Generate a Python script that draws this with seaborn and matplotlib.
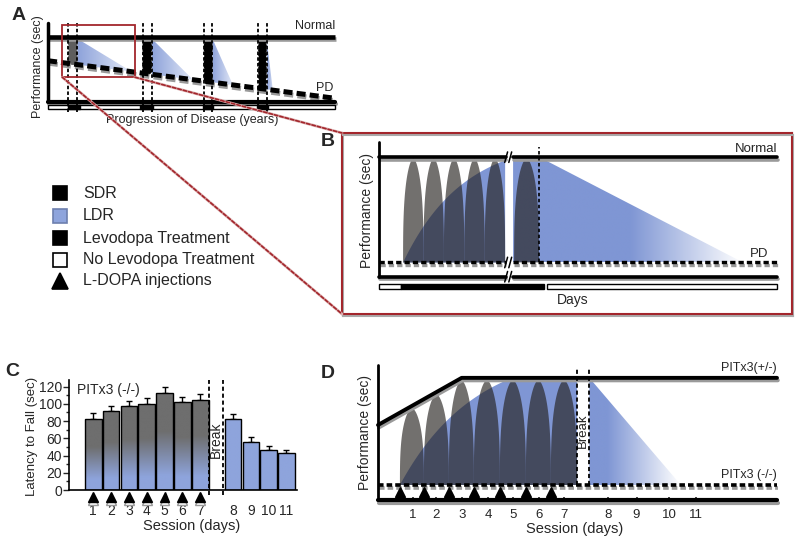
import numpy as np
import pandas as pd
import matplotlib
matplotlib.use("Agg")
import matplotlib.pyplot as plt
import matplotlib.patheffects as pe
from matplotlib.patches import Polygon, Rectangle, Ellipse, ConnectionPatch
from matplotlib.colors import LinearSegmentedColormap
import seaborn as sns

sns.set_style("white")
plt.rcParams['font.family'] = ['Liberation Sans', 'DejaVu Sans']
plt.rcParams['lines.scale_dashes'] = False

# ------------------------------------------------------------------ data
# Panel A (schematic, x in years, y in performance units)
a_dose_pairs = [(0.71, 1.03), (3.32, 3.64), (5.47, 5.77), (7.38, 7.67)]
a_ldr_tips = [2.94, 5.09, 6.49, 7.89]
a_treat_on = [(0.71, 1.12), (3.23, 3.67), (5.43, 5.80), (7.32, 7.73)]
a_pd_ends = [0.632, 0.061]
a_years = [0.0, 10.0]
a_zoom_box = [0.5, 3.05, 0.38, 1.18]

# Panel B (schematic)
b_spindle_starts = [1.18, 2.18, 3.18, 4.18, 5.18]
b_spindle_after = [6.62, 7.84]
b_break = [6.18, 6.57]
b_ldr_start = 1.18
b_ldr_stop = 7.86
b_ldr_end = 17.84
b_fade_start = 12.3
b_xmax = 19.5
b_strip_white = [(0.0, 1.1), (8.25, 19.5)]
b_strip_black = [(1.1, 8.1)]

# Panel C (bar chart)
c_days = [1, 2, 3, 4, 5, 6, 7, 8, 9, 10, 11]
c_pos = [1, 2, 3, 4, 5, 6, 7, 8.85, 9.85, 10.85, 11.85]
c_latency = [83, 92, 97, 99.5, 113, 102, 104.5, 82.5, 56, 47, 42.5]
c_sem = [6, 5, 6, 7, 6, 6.5, 6.5, 5.5, 6, 4.5, 4.5]
c_break = [7.48, 8.27]
c_yticks = [0, 20, 40, 60, 80, 100, 120]

# Panel D (schematic)
d_days = [1, 2, 3, 4, 5, 6, 7, 8, 9, 10, 11]
d_tick_pos = [1, 1.9, 2.95, 3.95, 4.95, 5.96, 6.95, 8.67, 9.78, 11.06, 12.1]
d_injections = [0.5, 1.44, 2.42, 3.4, 4.42, 5.44, 6.42]
d_break = [7.45, 7.93]
d_het_x = [-0.36, 2.92, 15.29]
d_het_perf = [0.56, 1.0, 1.0]
d_ldr_plateau = 4.9
d_ldr_end = 11.52

legend_labels = ['SDR', 'LDR', 'Levodopa Treatment', 'No Levodopa Treatment', 'L-DOPA injections']

# ------------------------------------------------------------------ style
W, H = 800, 541
fig = plt.figure(figsize=(W / 100, H / 100), dpi=100)

BLUE = '#7f96d4'
LBLUE = '#8ea4dc'
GRAY = '#6e6e6e'
SPINDLE = '#231f1c'
RED = '#a3262c'
shadow = [pe.SimpleLineShadow(offset=(0.6, -1.8), shadow_color='#9a9a9a', alpha=1.0), pe.Normal()]


def px_axes(x0, y0, x1, y1):
    return fig.add_axes([x0 / W, 1 - y1 / H, (x1 - x0) / W, (y1 - y0) / H])


def gradient_fill(ax, verts, x0, x1, y0, y1, nodes, horizontal=True, zorder=1):
    cmap = LinearSegmentedColormap.from_list('g', nodes)
    patch = Polygon(verts, closed=True, facecolor='none', edgecolor='none', zorder=zorder)
    ax.add_patch(patch)
    arr = np.linspace(0, 1, 512)
    arr = arr.reshape(1, -1) if horizontal else arr.reshape(-1, 1)
    im = ax.imshow(arr, extent=[x0, x1, y0, y1], origin='lower', cmap=cmap,
                   aspect='auto', zorder=zorder, interpolation='bilinear')
    im.set_clip_path(patch)
    return im


def spindle(ax, xs, xe, peak, base=0.0, alpha=0.64, zorder=3):
    t = np.linspace(0, 1, 100)
    half = (xe - xs) / 2 * (1 - t ** 3) ** 0.6
    xc = (xs + xe) / 2
    h = base + (peak - base) * t
    verts = np.column_stack([np.r_[xc - half, (xc + half)[::-1]], np.r_[h, h[::-1]]])
    ax.add_patch(Polygon(verts, closed=True, facecolor=SPINDLE, edgecolor='none',
                         alpha=alpha, zorder=zorder))


def rise_curve(x0, x1, top, k, n=80):
    x = np.linspace(x0, x1, n)
    f = (x - x0) / (x1 - x0)
    y = top * (1 - np.exp(-k * f)) / (1 - np.exp(-k))
    return x, y


# ================================================================== Panel A
axA = px_axes(48, 23, 333, 102)
axA.set_axis_off()


def pd_line(x):
    return np.interp(x, a_years, a_pd_ends)


for (xl, xr), tip in zip(a_dose_pairs, a_ldr_tips):
    verts = [(xr, 0.97), (xr, pd_line(xr)), (tip, pd_line(tip))]
    gradient_fill(axA, verts, xr, tip, pd_line(tip), 0.97,
                  [(0, '#8da2da'), (1, '#e3e9f7')], zorder=1)

for i, (xl, xr) in enumerate(a_dose_pairs):
    col = '#5e5e5e' if i == 0 else 'black'
    xc = (xl + xr) / 2
    top = 0.93 if i == 0 else 0.97
    bottom = pd_line(xc)
    n = max(3, int((top - bottom) / 0.07) + 1)
    for y in np.linspace(top - 0.04, bottom + 0.04, n):
        axA.add_patch(Ellipse((xc, y), width=(xr - xl) * 1.05, height=0.11,
                              facecolor=col, edgecolor='none', zorder=3))

for xl, xr in a_dose_pairs:
    for x in (xl, xr):
        axA.plot([x, x], [-0.153, 1.21], color='black', lw=1.3, dashes=(2.5, 1.6),
                 clip_on=False, zorder=5)

axA.plot([0, 10.07], [1, 1], color='black', lw=3.3, solid_capstyle='butt',
         path_effects=shadow, clip_on=False, zorder=4)
axA.plot(a_years, a_pd_ends, color='black', lw=3.6, dashes=(6.5, 3),
         path_effects=shadow, clip_on=False, zorder=4)
axA.plot([0, 0], [0, 1.21], color='black', lw=2.5, clip_on=False, zorder=4)
axA.plot([0, 10.07], [0, 0], color='black', lw=3, path_effects=shadow,
         clip_on=False, zorder=4)
axA.add_patch(Rectangle((0, -0.105), 10.07, 0.055, facecolor='white', edgecolor='black',
                        lw=1, clip_on=False, zorder=4))
for xs, xe in a_treat_on:
    axA.add_patch(Rectangle((xs, -0.105), xe - xs, 0.055, facecolor='black',
                            edgecolor='black', lw=1, clip_on=False, zorder=4))
bx0, bx1, by0, by1 = a_zoom_box
axA.add_patch(Rectangle((bx0, by0), bx1 - bx0, by1 - by0, facecolor='none',
                        edgecolor=RED, lw=1.3, zorder=6, clip_on=False))
axA.text(10.07, 1.16, 'Normal', ha='right', va='center', fontsize=9)
axA.text(10.0, 0.21, 'PD', ha='right', va='center', fontsize=9)
axA.text(5.05, -0.275, 'Progression of Disease (years)', ha='center', va='center', fontsize=9)
axA.text(-0.35, 0.54, 'Performance (sec)', ha='center', va='center', rotation=90, fontsize=9)
axA.set_xlim(0, 10)
axA.set_ylim(0, 1.21)

# ================================================================== Panel B
axBf = px_axes(342, 133, 792, 314)
axBf.set_xticks([])
axBf.set_yticks([])
axBf.patch.set_alpha(0)
for sp in axBf.spines.values():
    sp.set_color(RED)
    sp.set_linewidth(1.5)
    sp.set_path_effects([pe.SimpleLineShadow(offset=(1, -1.2), shadow_color='#aaaaaa', alpha=1), pe.Normal()])

axB = px_axes(379, 141.7, 777, 276.7)
axB.set_axis_off()

cx, cy = rise_curve(b_ldr_start, b_break[0], 0.97, 1.7)
verts = np.column_stack([np.r_[cx, b_break[0], b_ldr_start], np.r_[cy, 0, 0]])
axB.add_patch(Polygon(verts, closed=True, facecolor=BLUE, edgecolor='none', zorder=1))
verts = [(b_break[1], 0), (b_break[1], 1), (b_ldr_stop, 1), (b_ldr_end, 0)]
frac = (b_fade_start - b_break[1]) / (b_ldr_end - b_break[1])
gradient_fill(axB, verts, b_break[1], b_ldr_end, 0, 1,
              [(0, BLUE), (frac, BLUE), (1, 'white')], zorder=1)

for s in b_spindle_starts:
    spindle(axB, s, s + 1, 0.99)
spindle(axB, b_spindle_after[0], b_spindle_after[1], 0.99)

for y, kw in [(1.0, dict(lw=2.6, path_effects=shadow)),
              (0.0, dict(lw=2.4, dashes=(3.8, 2.2), path_effects=shadow)),
              (-0.135, dict(lw=2.6, path_effects=shadow))]:
    axB.plot([0, b_break[0] + 0.02], [y, y], color='black', clip_on=False, zorder=4, **kw)
    axB.plot([b_break[1] - 0.02, b_xmax], [y, y], color='black', clip_on=False, zorder=4, **kw)
    for dx in (b_break[0] + 0.05, b_break[0] + 0.25):
        axB.plot([dx - 0.07, dx + 0.07], [y - 0.05, y + 0.05], color='black', lw=1.1,
                 clip_on=False, zorder=5)
axB.plot([0, 0], [-0.135, 1.147], color='black', lw=2.0, clip_on=False, zorder=4)
axB.plot([b_ldr_stop, b_ldr_stop], [0, 1.1], color='black', lw=1.2, dashes=(2.5, 1.8),
         clip_on=False, zorder=5)
for xs, xe in b_strip_white:
    axB.add_patch(Rectangle((xs, -0.255), xe - xs, 0.05, facecolor='white', edgecolor='black',
                            lw=1, clip_on=False, zorder=4))
for xs, xe in b_strip_black:
    axB.add_patch(Rectangle((xs, -0.255), xe - xs, 0.05, facecolor='black', edgecolor='black',
                            lw=1, clip_on=False, zorder=4))
axB.text(b_xmax, 1.075, 'Normal', ha='right', va='center', fontsize=9.5)
axB.text(19.07, 0.077, 'PD', ha='right', va='center', fontsize=9.5)
axB.text(9.5, -0.356, 'Days', ha='center', va='center', fontsize=10)
axB.text(-0.6, 0.49, 'Performance (sec)', ha='center', va='center', rotation=90, fontsize=10)
axB.set_xlim(0, b_xmax)
axB.set_ylim(-0.135, 1.147)

# connectors A -> B
for xa, yb, in [(bx0, 0), (bx1, 1)]:
    for style in (dict(color='#dcb0b0', lw=2.0), dict(color=RED, lw=1.2, linestyle=(0, (2.5, 1.5)))):
        con = ConnectionPatch(xyA=(xa, by0), coordsA=axA.transData,
                              xyB=(0, yb), coordsB=axBf.transAxes, **style)
        con.set_zorder(3)
        fig.add_artist(con)

# ================================================================== Legend
axL = px_axes(40, 180, 300, 295)
axL.set_axis_off()
axL.set_xlim(40, 300)
axL.set_ylim(295, 180)
leg_style = [('s', 'black', 'black'), ('s', LBLUE, '#6d7fae'), ('s', 'black', 'black'),
             ('s', 'white', 'black'), ('^', 'black', 'black')]
leg_y = [193.3, 215.5, 238.3, 259.5, 281]
for lab, (m, fc, ec), y in zip(legend_labels, leg_style, leg_y):
    axL.plot([60], [y], marker=m, ms=10.5 if m == 's' else 11, mfc=fc, mec=ec, mew=1.2,
             linestyle='none', clip_on=False)
    axL.text(83, y, lab, ha='left', va='center', fontsize=11.5)

# ================================================================== Panel C
axC = px_axes(69, 380, 297, 490)
dfC = pd.DataFrame({'pos': c_pos, 'latency': c_latency})
sns.barplot(data=dfC, x='pos', y='latency', native_scale=True, width=0.94, color=GRAY,
            edgecolor='black', linewidth=1, errorbar=None, ax=axC, zorder=3)
axC.errorbar(c_pos, c_latency, yerr=[np.zeros(len(c_sem)), c_sem], fmt='none',
             ecolor='black', elinewidth=1, capsize=2.5, capthick=1, zorder=2)
for i, bar in enumerate(list(axC.patches)):
    x, w, h = bar.get_x(), bar.get_width(), bar.get_height()
    if i < 7:
        nodes = [(0, LBLUE), (0.15, LBLUE), (0.6, GRAY), (1, GRAY)]
    else:
        nodes = [(0, LBLUE), (1, LBLUE)]
    cmap = LinearSegmentedColormap.from_list('b', nodes)
    im = axC.imshow(np.linspace(0, 1, 256).reshape(-1, 1), extent=[x, x + w, 0, h],
                    origin='lower', cmap=cmap, aspect='auto', zorder=2.5)
    im.set_clip_path(bar)
    bar.set_facecolor('none')
    bar.set_zorder(3)

axC.plot(c_pos[:7], [-8.5] * 7, linestyle='none', marker='^', ms=7, color='black',
         clip_on=False, zorder=5,
         path_effects=[pe.SimpleLineShadow(offset=(0, -2), shadow_color='#9a9a9a', alpha=1), pe.Normal()])
for xb in c_break:
    axC.plot([xb, xb], [-6, 127.7], color='black', lw=1.3, dashes=(3, 2), clip_on=False, zorder=5)
axC.set_xlim(-0.365, 12.44)
axC.set_ylim(0, 127.7)
axC.set_yticks(c_yticks)
axC.set_yticks(np.arange(10, 130, 20), minor=True)
axC.set_xticks(c_pos)
axC.set_xticklabels([str(d) for d in c_days])
axC.tick_params(axis='x', length=0, pad=10, labelsize=10)
axC.tick_params(axis='y', which='major', length=4, width=1, direction='out', pad=1, labelsize=10, left=True)
axC.tick_params(axis='y', which='minor', length=2, width=1, direction='out', left=True)
axC.set_xlabel('')
axC.set_ylabel('')
for side in ('top', 'right'):
    axC.spines[side].set_visible(False)
for side in ('left', 'bottom'):
    axC.spines[side].set_color('black')
    axC.spines[side].set_linewidth(1.2)
axC.text(0.084, 116, 'PITx3 (-/-)', ha='left', va='center', fontsize=10)
axC.text((c_break[0] + c_break[1]) / 2, 58, 'Break', ha='center', va='center', rotation=90, fontsize=10)
axC.text(6.53, -41.5, 'Session (days)', ha='center', va='center', fontsize=10.5)
axC.text(-2.45, 62, 'Latency to Fall (sec)', ha='center', va='center', rotation=90, fontsize=9.5)

# ================================================================== Panel D
axD = px_axes(378, 365, 777, 500)
for sp in axD.spines.values():
    sp.set_visible(False)
axD.set_yticks([])

cx, cy = rise_curve(d_injections[0], d_ldr_plateau, 1.0, 1.5)
verts = np.column_stack([np.r_[cx, d_break[0], d_break[0], d_injections[0]],
                         np.r_[cy, 1.0, 0, 0]])
axD.add_patch(Polygon(verts, closed=True, facecolor=BLUE, edgecolor='none', zorder=1))
verts = [(d_break[1], 0), (d_break[1], 1), (d_ldr_end, 0)]
gradient_fill(axD, verts, d_break[1], d_ldr_end, 0, 1,
              [(0, BLUE), (0.2, BLUE), (1, 'white')], zorder=1)

ends = d_injections[1:] + [d_break[0]]
for s, e in zip(d_injections, ends):
    peak = np.interp((s + e) / 2, d_het_x, d_het_perf) - 0.02
    spindle(axD, s, e, peak)

axD.plot(d_het_x, d_het_perf, color='black', lw=2.8, path_effects=shadow, clip_on=False, zorder=4)
axD.plot([d_het_x[0], d_het_x[-1]], [0, 0], color='black', lw=2.6, dashes=(4, 2.2),
         path_effects=shadow, clip_on=False, zorder=4)
axD.plot([d_het_x[0], d_het_x[-1]], [-0.14, -0.14], color='black', lw=3.0,
         path_effects=shadow, clip_on=False, zorder=4)
axD.plot([d_het_x[0], d_het_x[0]], [-0.14, 1.12], color='black', lw=2.0, clip_on=False, zorder=4)
for xb in d_break:
    axD.plot([xb, xb], [0, 1.09], color='black', lw=1.3, dashes=(3, 2), clip_on=False, zorder=5)
axD.plot(d_injections, [-0.065] * len(d_injections), linestyle='none', marker='^', ms=6.5,
         color='black', clip_on=False, zorder=5)
axD.set_xticks(d_tick_pos)
axD.set_xticklabels([str(d) for d in d_days])
axD.tick_params(axis='x', length=5, width=1.2, direction='inout', pad=4, labelsize=9.5, bottom=True)
axD.text(d_het_x[-1], 1.096, 'PITx3(+/-)', ha='right', va='center', fontsize=9)
axD.text(d_het_x[-1], 0.093, 'PITx3 (-/-)', ha='right', va='center', fontsize=9)
axD.text((d_break[0] + d_break[1]) / 2, 0.51, 'Break', ha='center', va='center', rotation=90, fontsize=9.5)
axD.text(7.36, -0.41, 'Session (days)', ha='center', va='center', fontsize=10.5)
axD.text(-0.87, 0.486, 'Performance (sec)', ha='center', va='center', rotation=90, fontsize=10)
axD.set_xlim(d_het_x[0], d_het_x[-1])
axD.set_ylim(-0.14, 1.12)

# ================================================================== panel letters
for lab, (x, y) in {'A': (18.5, 15), 'B': (328, 141), 'C': (12.5, 372), 'D': (327.5, 374)}.items():
    fig.text(x / W, 1 - y / H, lab, ha='center', va='center', fontsize=14, fontweight='bold')

fig.savefig('out.png', dpi=100)
